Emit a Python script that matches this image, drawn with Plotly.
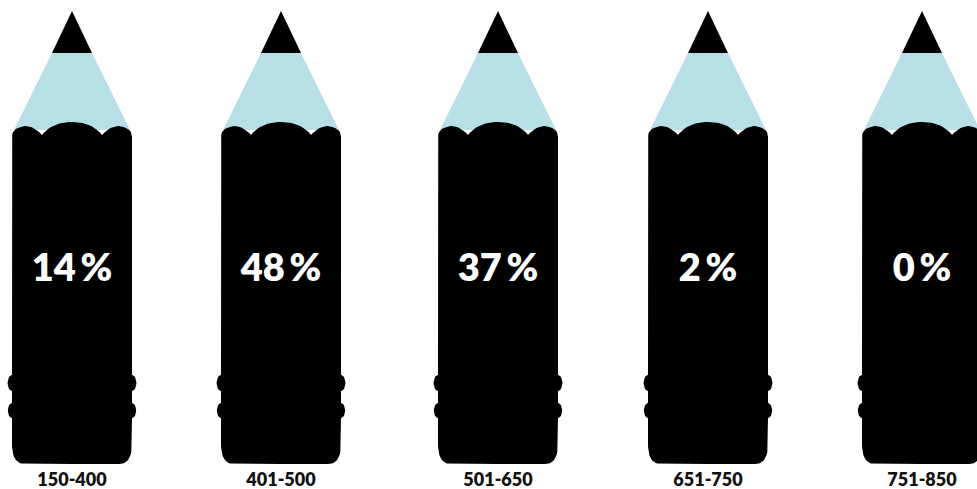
import numpy as np
import plotly.graph_objects as go

categories = ["150-400", "401-500", "501-650", "651-750", "751-850"]
shares = [14, 48, 37, 2, 0]
slots = [72, 281, 498, 708, 922]

INK = "#000000"
WOOD = "#b7e0e6"


def bez(p0, c, p1, n=14):
    t = np.linspace(0, 1, n)[:, None]
    p0, c, p1 = map(np.array, (p0, c, p1))
    return (1 - t) ** 2 * p0 + 2 * t * (1 - t) * c + t ** 2 * p1


def bump(y0, y1, body=60, out=60):
    m = (y0 + y1) / 2
    r = (y1 - y0) / 2
    a = np.linspace(-np.pi / 2, np.pi / 2, 16)
    cap = np.column_stack([out + r * 0.55 * np.cos(a), m + r * np.sin(a)])
    return np.vstack([[[body, y0]], cap, [[body, y1]]])


right_side = np.vstack([
    [[0, 122]],
    bez((0, 122), (20, 122), (30, 135)),
    bez((30, 135), (42, 122), (54, 128)),
    bez((54, 128), (60, 130), (60, 137), 6),
    [[60, 373]],
    bump(375, 391),
    [[60, 401]],
    bump(403, 418),
    [[60, 444]],
    bez((60, 444), (60, 464), (47, 464)),
    [[0, 464]],
])
pencil_x = np.concatenate([right_side[:, 0], -right_side[::-1, 0]])
pencil_y = np.concatenate([right_side[:, 1], right_side[::-1, 1]])

cone_x = np.array([-20, 20, 58, 0, -58, -20])
cone_y = np.array([53, 53, 130, 130, 130, 53])
tip_x = np.array([0, 20, -20, 0])
tip_y = np.array([11, 53, 53, 11])

fig = go.Figure()


def part(px, py, color):
    fig.add_trace(go.Scatter(x=px, y=py, mode="lines", fill="toself",
                             fillcolor=color, line=dict(width=0, color=color),
                             hoverinfo="skip", showlegend=False))


for cx in slots:
    part(cx + cone_x, cone_y, WOOD)
    part(cx + tip_x, tip_y, INK)
    part(cx + pencil_x, pencil_y, INK)

fig.add_trace(go.Scatter(
    x=slots, y=[271] * len(slots), mode="text",
    text=[f"{v}\u2009%" for v in shares],
    textposition="middle center",
    textfont=dict(family="Lato", size=38, color="white", weight=800),
    showlegend=False, hoverinfo="skip"))
fig.add_trace(go.Scatter(
    x=slots, y=[481] * len(slots), mode="text",
    text=categories, textposition="middle center",
    textfont=dict(family="Lato", size=18, color="#111111", weight=800),
    showlegend=False, hoverinfo="skip"))

fig.update_layout(
    width=977, height=489, margin=dict(l=0, r=0, t=0, b=0),
    paper_bgcolor="white", plot_bgcolor="white",
    xaxis=dict(range=[0, 977], visible=False, fixedrange=True),
    yaxis=dict(range=[489, 0], visible=False, fixedrange=True),
)
fig.write_html("out.html", config={"displayModeBar": False},
               post_script="document.body.style.margin='0';document.body.style.overflow='hidden';")
